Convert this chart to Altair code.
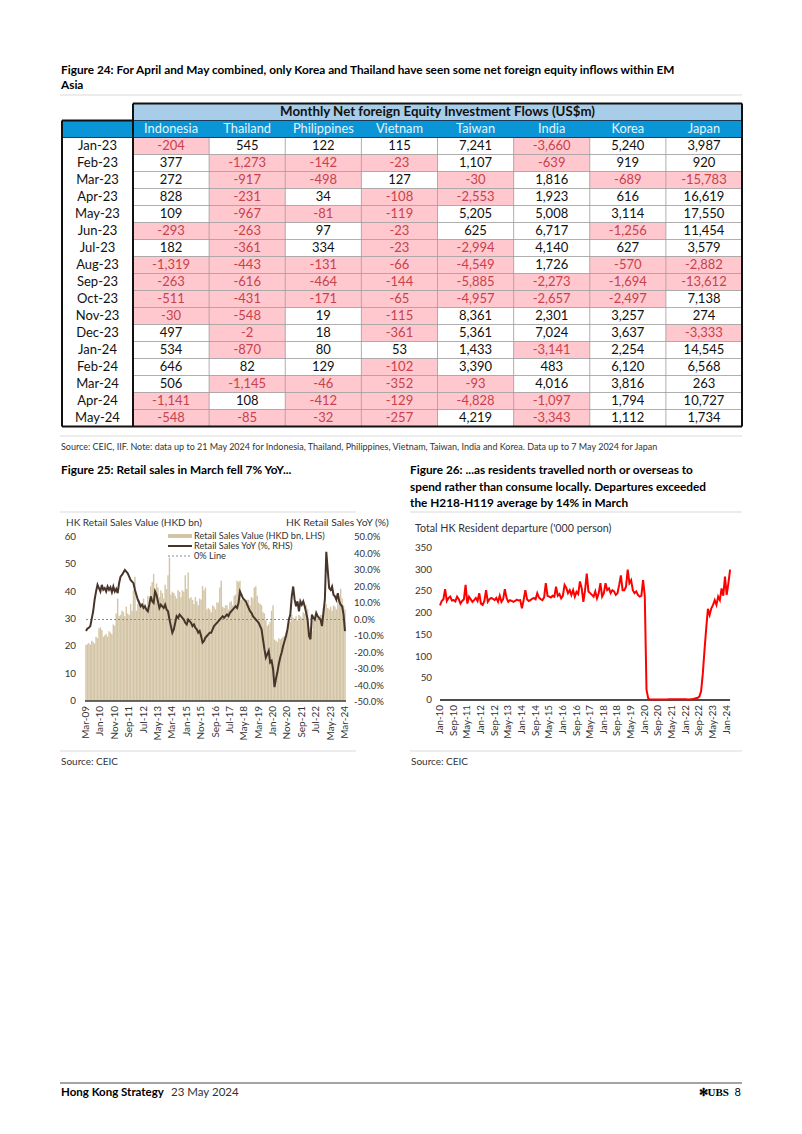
import altair as alt
import pandas as pd

OX, OY = 8, 8          # page margin -> canvas offset
W, H = 786, 1118
FONT = "Lato"
TFONT = "Lato"

# ---------------- Figure 24 table ----------------
table_months = ["Jan-23", "Feb-23", "Mar-23", "Apr-23", "May-23", "Jun-23", "Jul-23", "Aug-23",
                "Sep-23", "Oct-23", "Nov-23", "Dec-23", "Jan-24", "Feb-24", "Mar-24", "Apr-24", "May-24"]
countries = ["Indonesia", "Thailand", "Philippines", "Vietnam", "Taiwan", "India", "Korea", "Japan"]
flows_indonesia = [-204, 377, 272, 828, 109, -293, 182, -1319, -263, -511, -30, 497, 534, 646, 506, -1141, -548]
flows_thailand = [545, -1273, -917, -231, -967, -263, -361, -443, -616, -431, -548, -2, -870, 82, -1145, 108, -85]
flows_philippines = [122, -142, -498, 34, -81, 97, 334, -131, -464, -171, 19, 18, 80, 129, -46, -412, -32]
flows_vietnam = [115, -23, 127, -108, -119, -23, -23, -66, -144, -65, -115, -361, 53, -102, -352, -129, -257]
flows_taiwan = [7241, 1107, -30, -2553, 5205, 625, -2994, -4549, -5885, -4957, 8361, 5361, 1433, 3390, -93, -4828, 4219]
flows_india = [-3660, -639, 1816, 1923, 5008, 6717, 4140, 1726, -2273, -2657, 2301, 7024, -3141, 483, 4016, -1097, -3343]
flows_korea = [5240, 919, -689, 616, 3114, -1256, 627, -570, -1694, -2497, 3257, 3637, 2254, 6120, 3816, 1794, 1112]
flows_japan = [3987, 920, -15783, 16619, 17550, 11454, 3579, -2882, -13612, 7138, 274, -3333, 14545, 6568, 263, 10727, 1734]
all_flows = [flows_indonesia, flows_thailand, flows_philippines, flows_vietnam,
             flows_taiwan, flows_india, flows_korea, flows_japan]

# ---------------- Figure 25 retail sales (Mar-09 .. Mar-24, monthly) ----------------
retail_value = [
    20.5, 20.8, 21.2, 20.6, 22.0, 21.5, 21.0, 23.5, 23.0, 26.5,
    27.0, 26.0, 23.5, 24.0, 24.5, 23.5, 25.5, 25.0, 24.5, 28.0, 27.5, 32.0,
    37.5, 31.0, 31.5, 33.0, 32.5, 31.0, 34.5, 32.0, 31.5, 35.5, 33.0, 40.5,
    45.5, 33.0, 35.5, 37.0, 36.0, 34.5, 37.5, 35.5, 34.0, 38.5, 35.5, 42.0,
    43.5, 46.5, 41.0, 43.0, 41.5, 38.0, 40.5, 39.5, 37.5, 42.5, 41.0, 46.0,
    52.5, 39.0, 40.0, 39.5, 38.5, 37.5, 40.5, 40.0, 38.0, 40.5, 40.0, 46.0,
    41.0, 47.0, 37.5, 38.0, 37.0, 35.5, 38.0, 36.5, 35.0, 37.5, 37.0, 42.0,
    40.5, 41.5, 33.5, 34.0, 33.5, 32.5, 35.0, 34.5, 33.5, 36.0, 36.0, 41.5,
    44.0, 34.5, 34.0, 35.0, 35.0, 33.5, 36.0, 36.5, 35.0, 38.5, 39.0, 44.0,
    43.5, 44.0, 37.0, 37.5, 37.0, 35.5, 37.0, 37.0, 35.0, 38.0, 37.5, 41.5,
    42.0, 38.5, 36.0, 35.5, 35.0, 32.5, 32.0, 29.5, 27.5, 28.0, 29.0, 33.0,
    35.0, 22.5, 22.0, 21.5, 23.0, 22.5, 23.0, 23.5, 24.0, 25.0, 26.0, 28.5,
    29.0, 31.5, 30.5, 30.0, 31.0, 29.5, 31.5, 31.0, 30.5, 32.5, 32.0, 35.0,
    33.5, 27.0, 24.5, 25.5, 29.5, 30.0, 31.0, 30.5, 30.0, 31.5, 31.5, 34.0,
    35.0, 35.5, 34.0, 33.5, 34.5, 33.0, 35.0, 34.5, 33.5, 36.5, 35.5, 41.0,
    37.5, 35.0, 33.5]
retail_yoy = [
    -7.0, -5.5, -5.0, -4.0, 0.5, 5.0, 12.0, 17.0, 21.0, 19.0,
    17.0, 21.0, 18.0, 19.0, 17.0, 20.0, 18.0, 19.5, 16.5, 20.0, 17.0, 18.5,
    16.0, 22.0, 26.0, 27.0, 28.5, 30.0, 29.0, 28.0, 26.0, 24.0, 23.0, 22.0,
    18.0, 15.0, 12.0, 10.0, 8.0, 9.0, 7.0, 8.0, 6.0, 5.0, 9.0, 14.0,
    11.0, 10.0, 17.0, 15.0, 11.0, 7.0, 9.0, 8.0, 7.0, 9.0, 6.0, 5.0,
    0.0, -4.0, -8.0, -6.0, -2.0, 2.0, 1.0, 3.0, 2.0, 1.0, 0.0, -2.0,
    -3.0, 0.0, -1.0, -2.0, -4.0, -3.0, -5.0, -6.0, -8.0, -7.0, -10.0, -14.0,
    -13.0, -11.0, -10.0, -9.0, -8.0, -8.0, -6.0, -4.0, -3.0, -2.0, -1.0, 0.0,
    1.0, 2.0, 1.0, 2.0, 3.0, 2.0, 4.0, 5.0, 6.0, 7.0, 8.0, 7.0,
    10.0, 17.0, 15.0, 13.0, 12.0, 11.0, 9.0, 7.0, 5.0, 4.0, 2.0, 1.0,
    0.0, -1.0, -2.0, -4.0, -6.0, -12.0, -18.0, -23.0, -21.0, -19.0, -26.0, -25.0,
    -30.0, -41.0, -36.0, -32.0, -27.0, -23.0, -20.0, -16.0, -13.0, -10.0, -6.0, 0.0,
    3.0, 14.0, 20.0, 12.0, 8.0, 11.0, 5.0, 11.0, 9.0, 11.0, 8.0, 4.0,
    0.0, -10.0, -12.0, 3.0, 1.0, 0.0, 4.0, 2.0, 1.0, 0.0, -4.0, 4.0,
    12.0, 41.0, 30.0, 19.0, 18.0, 20.0, 15.0, 14.0, 12.0, 16.0, 11.0, 9.0,
    8.0, 3.0, -7.0]
retail_ticks = ["Mar-09", "Jan-10", "Nov-10", "Sep-11", "Jul-12", "May-13", "Mar-14", "Jan-15",
                "Nov-15", "Sep-16", "Jul-17", "May-18", "Mar-19", "Jan-20", "Nov-20", "Sep-21",
                "Jul-22", "May-23", "Mar-24"]
retail_left_ticks = [0, 10, 20, 30, 40, 50, 60]
retail_right_ticks = [-50, -40, -30, -20, -10, 0, 10, 20, 30, 40, 50]

# ---------------- Figure 26 departures (Jan-10 .. Mar-24, monthly) ----------------
departures = [
    218, 228, 232, 255, 228, 235, 238, 229, 230, 227, 238, 232,
    222, 228, 232, 265, 222, 238, 232, 226, 230, 235, 228, 246,
    222, 219, 228, 253, 226, 232, 235, 233, 230, 235, 226, 240,
    226, 232, 255, 235, 226, 230, 228, 226, 228, 231, 229, 230,
    211, 230, 253, 232, 228, 230, 233, 235, 232, 246, 236, 232,
    230, 236, 269, 240, 238, 236, 240, 238, 261, 240, 244, 234,
    240, 265, 258, 246, 253, 242, 253, 238, 249, 244, 273, 258,
    226, 253, 291, 250, 246, 242, 238, 250, 234, 246, 269, 238,
    246, 269, 253, 257, 246, 253, 250, 242, 246, 265, 287, 253,
    253, 261, 300, 269, 276, 253, 246, 250, 242, 238, 240, 276,
    240, 24, 4, 1, 1, 1, 1, 1, 1, 1, 1, 1,
    1, 1, 2, 2, 2, 2, 2, 2, 2, 2, 2, 2,
    2, 1, 1, 2, 2, 3, 4, 5, 8, 20, 60, 115,
    165, 210, 196, 211, 219, 230, 219, 238, 230, 257, 240, 284,
    242, 269, 300]
departure_ticks = ["Jan-10", "Sep-10", "May-11", "Jan-12", "Sep-12", "May-13", "Jan-14", "Sep-14",
                   "May-15", "Jan-16", "Sep-16", "May-17", "Jan-18", "Sep-18", "May-19", "Jan-20",
                   "Sep-20", "May-21", "Jan-22", "Sep-22", "May-23", "Jan-24"]
departure_y_ticks = [0, 50, 100, 150, 200, 250, 300, 350]

# ---------------- helpers ----------------
def txt(s, x, y, size=9, weight="normal", color="#222222", align="left",
        baseline="middle", font=FONT):
    d = pd.DataFrame({"t": [s]})
    return alt.Chart(d).mark_text(align=align, baseline=baseline, fontSize=size,
                                  fontWeight=weight, color=color, font=font).encode(
        x=alt.value(x - OX), y=alt.value(y - OY), text="t:N")


def hline(x1, x2, y, color="#d9d9d9", width=1.0, dash=None):
    d = pd.DataFrame({"k": [0]})
    kw = dict(color=color, strokeWidth=width)
    if dash:
        kw["strokeDash"] = dash
    return alt.Chart(d).mark_rule(**kw).encode(
        x=alt.value(x1 - OX), x2=alt.value(x2 - OX), y=alt.value(y - OY))


L = []
TS = 11.8  # figure title size

# ---------------- page texts ----------------
L.append(txt("Figure 24: For April and May combined, only Korea and Thailand have seen some net foreign equity inflows within EM",
             61, 70, size=TS, weight="bold", color="#000000"))
L.append(txt("Asia", 61, 85, size=TS, weight="bold", color="#000000"))
L.append(hline(60, 742, 95, width=1.2))

# ---------------- table ----------------
TX = alt.Scale(domain=[0, 8], range=[133 - OX, 742 - OX], nice=False, zero=False)
TY = alt.Scale(domain=[-2, 17], range=[103.5 - OY, 426.5 - OY], nice=False, zero=False)
LEFT = -(133 - 62) / ((742 - 133) / 8)

cell_rows = []
for ci, vals in enumerate(all_flows):
    for ri, v in enumerate(vals):
        cell_rows.append(dict(x0=ci, x1=ci + 1, xc=ci + 0.5, y0=ri, y1=ri + 1, yc=ri + 0.5,
                              val=v, label=f"{v:,}"))
cells = pd.DataFrame(cell_rows)

L.append(alt.Chart(cells[cells.val < 0]).mark_rect(color="#ffc7ce").encode(
    x=alt.X("x0:Q", scale=TX, axis=None), x2="x1:Q",
    y=alt.Y("y0:Q", scale=TY, axis=None), y2="y1:Q"))

hdr = pd.DataFrame({"x0": [0, LEFT], "x1": [8, 8], "y0": [-2, -1], "y1": [-1, 0],
                    "fill": ["#a8cde8", "#0a96d6"]})
L.append(alt.Chart(hdr).mark_rect().encode(
    x=alt.X("x0:Q", scale=TX, axis=None), x2="x1:Q",
    y=alt.Y("y0:Q", scale=TY, axis=None), y2="y1:Q",
    color=alt.Color("fill:N", scale=None)))

thin = ([dict(x0=k, x1=k, y0=0, y1=17) for k in range(1, 8)] +
        [dict(x0=0, x1=8, y0=k, y1=k) for k in range(1, 17)])
L.append(alt.Chart(pd.DataFrame(thin)).mark_rule(color="#9a9a9a", strokeWidth=0.8).encode(
    x=alt.X("x0:Q", scale=TX, axis=None), x2="x1:Q",
    y=alt.Y("y0:Q", scale=TY, axis=None), y2="y1:Q"))

mid = [dict(x0=LEFT, x1=8, y0=0, y1=0), dict(x0=0, x1=8, y0=-1, y1=-1)]
L.append(alt.Chart(pd.DataFrame(mid)).mark_rule(color="#1b3a57", strokeWidth=1.2).encode(
    x=alt.X("x0:Q", scale=TX, axis=None), x2="x1:Q",
    y=alt.Y("y0:Q", scale=TY, axis=None), y2="y1:Q"))

thick = [dict(x0=0, x1=8, y0=-2, y1=-2), dict(x0=8, x1=8, y0=-2, y1=17),
         dict(x0=LEFT, x1=8, y0=17, y1=17), dict(x0=LEFT, x1=LEFT, y0=-1, y1=17),
         dict(x0=0, x1=0, y0=-2, y1=17), dict(x0=LEFT, x1=0, y0=-1, y1=-1)]
L.append(alt.Chart(pd.DataFrame(thick)).mark_rule(color="#111111", strokeWidth=2).encode(
    x=alt.X("x0:Q", scale=TX, axis=None), x2="x1:Q",
    y=alt.Y("y0:Q", scale=TY, axis=None), y2="y1:Q"))

L.append(alt.Chart(cells).mark_text(fontSize=13, font=TFONT, baseline="middle").encode(
    x=alt.X("xc:Q", scale=TX, axis=None), y=alt.Y("yc:Q", scale=TY, axis=None),
    text="label:N",
    color=alt.condition("datum.val < 0", alt.value("#c8424c"), alt.value("#111111"))))

rowlab = pd.DataFrame({"label": table_months, "yc": [i + 0.5 for i in range(len(table_months))],
                       "xc": [LEFT / 2] * len(table_months)})
L.append(alt.Chart(rowlab).mark_text(fontSize=13, font=TFONT, color="#111111", baseline="middle").encode(
    x=alt.X("xc:Q", scale=TX, axis=None), y=alt.Y("yc:Q", scale=TY, axis=None), text="label:N"))

collab = pd.DataFrame({"label": countries, "xc": [i + 0.5 for i in range(8)], "yc": [-0.5] * 8})
L.append(alt.Chart(collab).mark_text(fontSize=12.8, font=TFONT, color="#e6f3fb", baseline="middle").encode(
    x=alt.X("xc:Q", scale=TX, axis=None), y=alt.Y("yc:Q", scale=TY, axis=None), text="label:N"))

ttl = pd.DataFrame({"label": ["Monthly Net foreign Equity Investment Flows (US$m)"], "xc": [4], "yc": [-1.5]})
L.append(alt.Chart(ttl).mark_text(fontSize=13.3, font=TFONT, fontWeight="bold", color="#111111",
                                  baseline="middle").encode(
    x=alt.X("xc:Q", scale=TX, axis=None), y=alt.Y("yc:Q", scale=TY, axis=None), text="label:N"))

L.append(hline(60, 742, 436, width=1.2))
L.append(txt("Source: CEIC, IIF. Note: data up to 21 May 2024 for Indonesia, Thailand, Philippines, Vietnam, Taiwan, India and Korea. Data up to 7 May 2024 for Japan",
             61, 447, size=9, color="#333333"))

# ---------------- figure titles ----------------
L.append(txt("Figure 25: Retail sales in March fell 7% YoY...", 61, 470, size=TS, weight="bold", color="#000000"))
L.append(txt("Figure 26: ...as residents travelled north or overseas to", 410, 470, size=TS, weight="bold", color="#000000"))
L.append(txt("spend rather than consume locally. Departures exceeded", 410, 486.5, size=TS, weight="bold", color="#000000"))
L.append(txt("the H218-H119 average by 14% in March", 410, 503, size=TS, weight="bold", color="#000000"))
L.append(hline(60, 356, 512, width=1.2))
L.append(hline(410, 742, 512, width=1.2))

# ---------------- Figure 25 chart ----------------
RX = alt.Scale(domain=[0, 180], range=[86 - OX, 345 - OX], nice=False, zero=False)
RYL = alt.Scale(domain=[0, 60], range=[701 - OY, 537 - OY], nice=False, zero=False)
RYR = alt.Scale(domain=[-50, 50], range=[702 - OY, 537 - OY], nice=False, zero=False)

rdf = pd.DataFrame({"i": list(range(len(retail_value))), "v": retail_value, "yoy": retail_yoy})
rdf["xa"] = rdf["i"] - 0.5
rdf["xb"] = rdf["i"] + 0.5
rdf["zero"] = 0.0

L.append(alt.Chart(rdf).mark_rect(color="#d3c5a6").encode(
    x=alt.X("xa:Q", scale=RX, axis=None), x2="xb:Q",
    y=alt.Y("v:Q", scale=RYL, axis=None), y2="zero:Q"))

zl = pd.DataFrame({"x0": [0], "x1": [180], "y": [0]})
L.append(alt.Chart(zl).mark_rule(color="#8c8c8c", strokeWidth=1.2, strokeDash=[2, 2]).encode(
    x=alt.X("x0:Q", scale=RX, axis=None), x2="x1:Q", y=alt.Y("y:Q", scale=RYR, axis=None)))

L.append(alt.Chart(rdf).mark_line(color="#47352a", strokeWidth=2).encode(
    x=alt.X("i:Q", scale=RX, axis=None), y=alt.Y("yoy:Q", scale=RYR, axis=None)))

ax25 = pd.DataFrame({"x0": [-0.7], "x1": [180.7], "y": [0]})
L.append(alt.Chart(ax25).mark_rule(color="#3a3a3a", strokeWidth=1.5).encode(
    x=alt.X("x0:Q", scale=RX, axis=None), x2="x1:Q", y=alt.Y("y:Q", scale=RYL, axis=None)))

lt = pd.DataFrame({"v": retail_left_ticks, "label": [str(v) for v in retail_left_ticks]})
L.append(alt.Chart(lt).mark_text(align="right", baseline="middle", fontSize=9.8, font=FONT, color="#333333").encode(
    x=alt.value(76 - OX), y=alt.Y("v:Q", scale=RYL, axis=None), text="label:N"))

rt = pd.DataFrame({"v": retail_right_ticks, "label": [f"{v:.1f}%" for v in retail_right_ticks]})
L.append(alt.Chart(rt).mark_text(align="left", baseline="middle", fontSize=9.5, font=FONT, color="#333333").encode(
    x=alt.value(354 - OX), y=alt.Y("v:Q", scale=RYR, axis=None), text="label:N"))

xt = pd.DataFrame({"i": [10 * k for k in range(len(retail_ticks))], "label": retail_ticks})
L.append(alt.Chart(xt).mark_text(align="right", baseline="middle", angle=270, fontSize=10, font=FONT,
                                 color="#333333").encode(
    x=alt.X("i:Q", scale=RX, axis=None), y=alt.value(706 - OY), text="label:N"))

L.append(txt("HK Retail Sales Value (HKD bn)", 66, 523, size=10, color="#333333"))
L.append(txt("HK Retail Sales YoY (%)", 286, 523, size=10.3, color="#333333"))

# legend
L.append(hline(168, 192, 536, color="#d3c5a6", width=4))
L.append(hline(168, 192, 546, color="#47352a", width=2))
L.append(hline(168, 192, 556, color="#8c8c8c", width=1.2, dash=[2, 2]))
L.append(txt("Retail Sales Value (HKD bn, LHS)", 194, 536, size=9.2, color="#333333"))
L.append(txt("Retail Sales YoY (%, RHS)", 194, 546, size=9.2, color="#333333"))
L.append(txt("0% Line", 194, 556, size=9.2, color="#333333"))

# ---------------- Figure 26 chart ----------------
DX = alt.Scale(domain=[0, 170], range=[440 - OX, 730.1 - OX], nice=False, zero=False)
DY = alt.Scale(domain=[0, 350], range=[700 - OY, 548 - OY], nice=False, zero=False)

ddf = pd.DataFrame({"m": list(range(len(departures))), "v": departures})
ax26 = pd.DataFrame({"x0": [0], "x1": [170], "y": [0]})
L.append(alt.Chart(ax26).mark_rule(color="#111111", strokeWidth=1.5).encode(
    x=alt.X("x0:Q", scale=DX, axis=None), x2="x1:Q", y=alt.Y("y:Q", scale=DY, axis=None)))
L.append(alt.Chart(ddf).mark_line(color="#ff0000", strokeWidth=2).encode(
    x=alt.X("m:Q", scale=DX, axis=None), y=alt.Y("v:Q", scale=DY, axis=None)))

dyt = pd.DataFrame({"v": departure_y_ticks, "label": [str(v) for v in departure_y_ticks]})
L.append(alt.Chart(dyt).mark_text(align="right", baseline="middle", fontSize=9.8, font=FONT, color="#333333").encode(
    x=alt.value(432 - OX), y=alt.Y("v:Q", scale=DY, axis=None), text="label:N"))
dxt = pd.DataFrame({"m": [8 * k for k in range(len(departure_ticks))], "label": departure_ticks})
L.append(alt.Chart(dxt).mark_text(align="right", baseline="middle", angle=270, fontSize=9.8, font=FONT,
                                  color="#333333").encode(
    x=alt.X("m:Q", scale=DX, axis=None), y=alt.value(705 - OY), text="label:N"))
L.append(txt("Total HK Resident departure ('000 person)", 415, 529, size=10.7, color="#333333"))

# ---------------- sources & footer ----------------
L.append(hline(60, 356, 751, width=1.2))
L.append(hline(410, 742, 751, width=1.2))
L.append(txt("Source: CEIC", 61, 762, size=10, color="#333333"))
L.append(txt("Source: CEIC", 411, 762, size=10, color="#333333"))

L.append(hline(60, 742, 1083, color="#4a4a4a", width=1.2))
L.append(txt("Hong Kong Strategy", 61, 1093, size=11.5, weight="bold", color="#000000"))
L.append(txt("23 May 2024", 171, 1093, size=11.5, color="#333333"))
L.append(txt("✻UBS", 729, 1093, size=11, weight="bold", color="#000000", font="Liberation Serif", align="right"))
L.append(txt("8", 741, 1093, size=11, color="#000000", align="right"))

chart = alt.layer(*L).resolve_scale(x="independent", y="independent").properties(
    width=W, height=H, padding=0, autosize=alt.AutoSizeParams(type="none")
).configure_view(stroke=None)

chart.save("out.html", embed_options={"renderer": "svg", "actions": False})
